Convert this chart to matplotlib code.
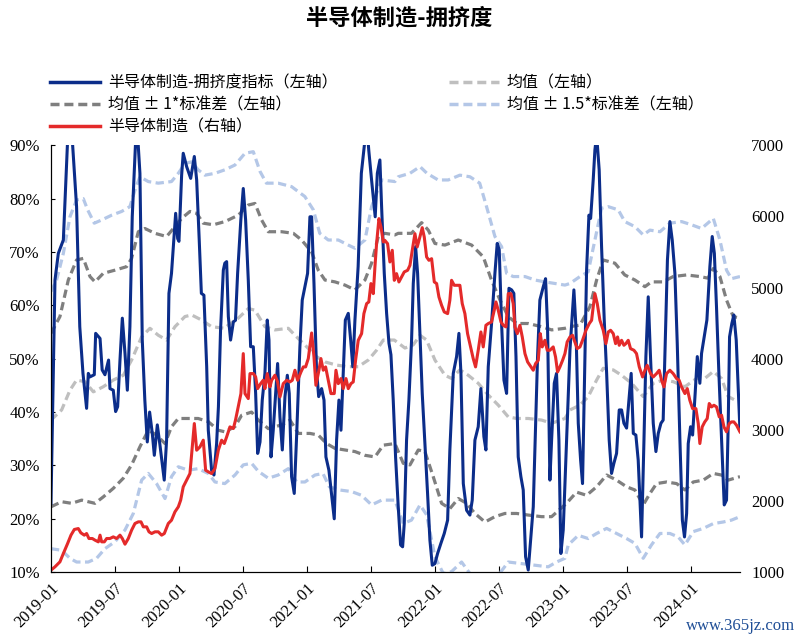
import numpy as np
import matplotlib
matplotlib.use("Agg")
import matplotlib.pyplot as plt
from matplotlib.lines import Line2D

plt.rcParams['font.family'] = ['Liberation Serif', 'Noto Sans CJK SC', 'DejaVu Sans']
CJK = ['Noto Sans CJK SC', 'Liberation Serif', 'DejaVu Sans']

# x positions are months counted from 2019-01
tick_labels = ['2019-01', '2019-07', '2020-01', '2020-07', '2021-01', '2021-07',
               '2022-01', '2022-07', '2023-01', '2023-07', '2024-01']

# 拥挤度指标 (%), left axis
idx_m = [0, 0.375, 0.69, 1.16, 1.56, 1.78, 2.0, 2.4, 2.7, 3.0, 3.34, 3.5, 3.66, 4.06, 4.19,
         4.6, 4.8, 5.06, 5.4, 5.53, 5.84, 6.06, 6.25, 6.47, 6.69, 6.94, 7.16, 7.4, 7.62, 8.03,
         8.34, 8.56, 8.8, 9.03, 9.25, 9.5, 9.69, 9.97, 10.22, 10.62, 10.84, 11.06, 11.3, 11.69,
         11.88, 12.0, 12.25, 12.4, 12.72, 13.1, 13.44, 13.66, 13.9, 14.1, 14.34, 14.6, 14.75,
         15.06, 15.28, 15.53, 15.7, 15.9, 16.16, 16.3,
         16.47, 16.63, 16.84, 17.1, 17.3, 17.5, 17.8, 18.03, 18.25, 18.5, 18.72, 18.97, 19.19,
         19.38, 19.6, 19.81, 20.06, 20.28, 20.44, 20.63, 20.84, 21.25, 21.47, 21.69, 21.94,
         22.16, 22.34, 22.56, 22.81, 23.03, 23.34, 23.56, 23.81, 24.06, 24.28, 24.44, 24.66,
         24.9, 25.1, 25.375, 25.6, 25.78, 26.06, 26.3, 26.56, 26.78, 27.0, 27.19, 27.4, 27.6,
         27.875, 28.1, 28.3, 28.5, 28.8, 29.1, 29.375, 29.6, 29.8, 30.06, 30.4, 30.6, 30.84,
         31.0, 31.25,
         31.47, 31.69, 31.875, 32.09, 32.31, 32.56, 32.78, 32.97, 33.125, 33.34, 33.56, 33.81,
         33.97, 34.19, 34.375, 34.59, 34.81, 35.06, 35.31, 35.53, 35.75, 36.0, 36.25, 36.56,
         36.875, 37.19, 37.4, 37.72, 38.03, 38.25, 38.44, 38.66, 38.97, 39.28, 39.5, 39.75,
         40.06, 40.31, 40.59, 40.78, 41.0, 41.31, 41.625, 41.84, 42.03, 42.25, 42.47, 42.72,
         42.94, 43.19, 43.4, 43.6, 43.81, 44.06, 44.28, 44.5, 44.75, 44.97, 45.22, 45.44,
         45.625, 45.84, 46.16, 46.375, 46.56, 46.78, 46.94, 47.19, 47.4, 47.625, 47.81, 48.03,
         48.4, 48.66, 49.03, 49.22, 49.44, 49.66, 49.84, 50.0, 50.22, 50.44, 50.6, 50.84, 51.0,
         51.16, 51.4, 51.625, 51.875, 52.1, 52.34, 52.56, 52.78, 53.03, 53.28, 53.5, 53.72,
         53.97, 54.19, 54.4, 54.6, 54.84, 55.06, 55.375, 55.6, 55.78, 56.0, 56.2, 56.47, 56.72,
         56.94, 57.19, 57.4, 57.6, 57.8, 58.03, 58.25, 58.5, 58.72, 58.97, 59.2, 59.4, 59.6,
         59.75, 59.97, 60.16, 60.4, 60.6, 60.84, 61.0, 61.3, 61.5, 61.78, 62.0, 62.2, 62.4,
         62.625, 62.875, 63.125, 63.34, 63.5, 63.625, 63.84, 64.03, 64.25, 64.47, 64.6]
idx_v = [22.9, 64.75, 69.75, 72.25, 91, 97, 91, 78.5, 56, 47.25, 40.7, 47.25, 46.6, 47, 54.75,
         53.8, 47.9, 47, 49.75, 44.4, 44.1, 40.1, 41, 49.75, 57.6, 51, 44.1, 56, 76.6, 95,
         84.75, 53.5, 42.25, 34.4, 40, 36, 31.9, 37.6, 33.8, 27.25, 34.75, 62.25, 66, 77.25,
         72.5, 72, 84.4, 88.5, 86, 83.8, 87.9, 83.5, 72.25, 62.25, 61.9, 48.5, 36.6,
         29.1, 28.2, 34.1, 41, 55.4, 66.6, 67.9,
         68.2, 57.9, 53.5, 56.9, 57.2, 66, 76, 81.9, 76, 64.75, 52.25, 52.25, 43.5,
         32.25, 34.4, 42.25, 47.25, 57.25, 53.5, 31.6, 36.6, 49.1, 39.1, 32.9, 42.9,
         46.9, 43.5, 27.9, 24.75, 35.4, 52.25, 61, 63.5, 66, 76.6, 76.6, 64.1,
         47.9, 42.9, 44.4, 42.25, 31.6, 29.1, 24.75, 20, 34.75, 42.25, 36.6, 47.25, 57.25,
         58.5, 53.5, 48.5, 57.25, 67.25, 84.75, 89.75, 94, 89, 83.5, 76.6, 84.75, 87.25,
         78.5, 66,
         58.5, 52.9, 50.75, 42.25, 31.6, 22.25, 15.1, 14.75, 19.1, 34.75, 42.25, 53.5,
         64.1, 71, 66, 54.75, 43.5, 34.1, 24.75, 16, 11.3, 11.6, 13.5, 15.4,
         17.25, 19.75, 32.9, 47.25, 50.4, 54.75, 47.25, 26.6, 21.6, 20.7, 23.5, 34.75,
         37.25, 44.4, 35.4, 32.9, 48.5, 56.6, 66, 71.6, 70.4, 56.6, 46, 43.5,
         63.2, 62.9, 62.25, 50.4, 31.6, 27.9, 25.4, 12.9, 10.4, 16, 22.25, 37.25,
         50.5, 61, 63.5, 65, 56, 27.25, 34.75, 45.4, 47.25, 34.75, 13.5, 17.9,
         37.9, 51.6, 62.9, 56, 37.9, 31, 26.6, 43.5, 66.6, 76.9, 76.3, 83.5, 89.1,
         92, 85.4, 71, 57.25, 47.25, 34.75, 28.5, 30.4, 32.25, 40.4, 40.4, 37.9,
         37, 42.25, 47.25, 36, 35.7, 31, 16.6, 34.75, 50.4, 61.6, 51, 37.9, 32.6,
         36, 37.9, 38.5, 53.5, 68.5, 75.7, 72.25, 66, 52.9, 34.75, 19.75, 16.6, 21,
         34.1, 37.25, 35.7, 43.5, 50.4, 45.4, 51, 54.75, 57.25, 67.25, 72.9, 69.75, 59.75,
         47.25, 34.75, 22.6, 23.5, 37.9, 54.1, 56.6, 58.2, 53.5, 42.9, 36.6]

# 均值 (%)
mean_m = [0, 1.0, 1.78, 2.4, 3.19, 3.97, 4.9, 5.84, 6.78, 7.56, 8.5, 9.28, 10.06, 10.84, 11.625,
          12.56, 13.19, 14.125, 15.06, 16.3, 16.625, 17.56, 18.5, 19.125, 20.06, 21.0, 22.25,
          22.875, 23.97, 24.9, 25.69, 26.78, 27.875, 28.81, 29.75, 30.53, 31.16, 32.19, 33.19,
          33.97, 34.6, 35.22, 36.0, 36.94, 37.56, 38.34, 39.125, 40.06, 41.0, 41.94, 42.875,
          43.66, 44.75, 46.0, 46.94, 48.19, 48.66, 49.6, 50.375, 51.16, 51.78, 52.72, 53.5,
          54.44, 55.53, 56.47, 57.4, 58.34, 59.44, 60.53, 61.3, 62.1, 62.875, 63.5, 64.125, 64.6]
mean_v = [38.5, 40.4, 44.1, 46, 45.7, 43.8, 44.75, 46, 46.9, 49.75, 54.1, 55.7, 54.4, 53.5, 56,
          57.9, 58.2, 57.25, 56, 55.7, 56.3, 57.6, 59.4, 59.1, 56, 55.4, 55.7,
          54.4, 52.25, 50.4, 49.4, 48.8, 48.5, 48.5, 49.75, 51.6, 53.5, 53.5, 52,
          52.6, 54.4, 53.5, 49.75, 46.9, 46.3, 47.9, 46.9, 45.4, 43.2, 41.3, 39.1,
          38.8, 38.8, 38.5, 37.9, 38.8, 40.4, 41.3, 42.9, 46, 48.2, 47.9, 46.9,
          45.4, 42.9, 45.4, 46, 45.7, 44.75, 46.3, 46.3, 47.6, 46.3, 42.9, 42.25, 42.25]

# 均值 ± 1*标准差 (%)
up1_m = [0, 0.84, 1.625, 2.4, 3.03, 3.66, 4.125, 4.9, 6.0, 7.09, 7.56, 8.19, 8.81, 9.75, 10.84,
         11.625, 12.25, 13.03, 13.66, 14.28, 15.22, 16.3, 16.625, 17.56, 18.5, 19.125, 19.75,
         20.375, 21.625, 22.72, 23.5, 24.44, 25.06, 25.69, 26.625, 27.56, 28.5, 29.44, 30.06,
         30.69, 31.3, 32.25, 32.56, 33.8, 34.75, 35.375, 36.0, 36.94, 38.19, 39.44, 40.53,
         41.3, 42.1, 42.875, 43.66, 44.75, 46.0, 46.94, 48.19, 48.66, 49.6, 50.53, 51.16,
         51.78, 52.875, 53.8, 54.75, 55.69, 56.3, 57.4, 58.34, 59.6, 60.84, 61.6, 62.1, 62.72,
         63.34, 63.97, 64.6]
up1_v = [54.75, 57.9, 64.75, 68.5, 68.8, 65.4, 64.4, 66, 66.6, 67.25, 68.8, 73.8, 74.4, 73.5, 72.9,
         74.75, 76.3, 77.6, 77.25, 75.4, 75.1, 75.7, 76, 76.9, 78.8, 79.1, 76,
         73.8, 73.8, 73.5, 72.25, 70, 66.6, 64.75, 64.4, 63.8, 62.9, 64.75, 67.9,
         72.9, 73.5, 73.2, 73.5, 73.5, 75.5, 74.1, 71.6, 71.3, 72.25, 71.3, 69.1,
         64.75, 61, 57.9, 56.6, 56.6, 56, 55.4, 55.7, 56, 56.3, 59.75, 64.75,
         68.5, 67.9, 65.7, 64.75, 63.5, 64.4, 64.4, 65.4, 65.7, 65.4, 65.1, 66.9, 65.4,
         61, 57.9, 57.6]
lo1_m = [0, 1.0, 1.94, 2.875, 4.125, 4.9, 5.84, 6.78, 7.56, 8.34, 9.125, 9.9, 10.69, 11.3, 11.94,
         12.875, 13.8, 14.75, 15.69, 16.3, 17.25, 17.875, 18.81, 19.44, 20.375, 21.625, 22.41,
         23.19, 24.28, 25.06, 25.84, 26.625, 27.56, 28.5, 29.44, 30.375, 31.16, 32.25, 33.03,
         33.66, 34.44, 35.06, 35.84, 36.625, 37.4, 38.19, 38.97, 39.75, 40.69, 41.625, 42.56,
         43.66, 44.75, 46.0, 46.94, 48.34, 49.28, 50.22, 51.16, 52.1, 53.03, 53.97, 54.75,
         55.53, 56.16, 56.78, 57.72, 58.66, 59.44, 60.22, 61.16, 62.1, 62.875, 63.5, 64.6]
lo1_v = [22.25, 23.2, 22.9, 23.5, 22.9, 24.1, 25.7, 27.6, 30.1, 33.5, 36.6, 35.7, 34.1, 37.25, 38.8,
         38.8, 38.8, 38.2, 36.6, 36.3, 37.25, 39.4, 40, 38.5, 36.9, 37.6, 38.5,
         36, 36, 35.7, 34.1, 33.2, 32.9, 32.6, 31.9, 31.6, 33.8, 34.1, 30.4,
         30.1, 32.9, 32.6, 27.9, 22.9, 21.9, 23.8, 22.9, 21, 19.4, 20.4, 21,
         21, 20.7, 20.4, 20.4, 22.9, 25, 24.4, 26, 28.2, 27.25, 26, 25.4,
         22.6, 24.75, 26.6, 26.9, 26.6, 25.4, 26.9, 27.25, 28.5, 28.2, 27.25, 27.9]

# 均值 ± 1.5*标准差 (%)
up15_m = [0, 0.53, 1.16, 1.78, 2.4, 3.03, 3.44, 4.06, 4.75, 5.69, 6.625, 7.4, 7.875, 8.34, 9.125,
          10.06, 11.3, 11.94, 12.56, 13.19, 13.8, 14.44, 15.375, 16.3, 17.25, 18.19, 18.97,
          19.6, 20.2, 21.3, 22.56, 23.8, 24.6, 25.2, 26.0, 26.94, 27.875, 28.5, 29.44, 30.06,
          31.0, 32.25, 32.56, 33.66, 34.6, 35.25, 36.3, 37.25, 38.34, 39.28, 40.2, 40.84,
          41.625, 42.25, 42.72, 43.34, 44.44, 45.375, 46.31, 47.25, 48.19, 48.66, 49.6, 50.375,
          51.0, 51.625, 52.25, 53.19, 53.8, 54.75, 55.53, 56.16, 57.1, 58.03, 59.125, 60.06,
          61.0, 62.1, 62.72, 63.34, 63.8, 64.6]
up15_v = [62.6, 64.75, 69.75, 76.6, 79.75, 80, 77.9, 75.4, 76, 76.9, 77.6, 78.5, 81.6, 84.1, 83.2,
          82.9, 83.2, 84.75, 86.6, 86.9, 85.4, 84.4, 84.75, 85.4, 86.3, 88.5, 88.8,
          85.1, 82.9, 82.9, 82.25, 80.4, 77.9, 73.5, 72.25, 72.25, 71.3, 70.7, 72.25, 78.5,
          83.5, 83.2, 84.1, 84.75, 86, 84.75, 83.5, 83.5, 84.4, 84.1, 82.9, 78.5,
          72.9, 71, 66, 65.4, 65.4, 64.75, 64.4, 64.1, 63.8, 64.1, 65.4, 66.3,
          72.25, 78.2, 78.5, 77.9, 75.7, 74.75, 73.2, 74.1, 73.8, 75.4, 75.7, 75.1,
          74.4, 76.3, 72.25, 66.6, 65, 65.4]
lo15_m = [0, 1.0, 1.78, 2.4, 3.5, 4.28, 5.06, 6.0, 6.94, 7.72, 8.5, 9.125, 9.9, 10.69, 11.3,
          11.94, 12.875, 13.8, 14.75, 15.375, 16.3, 17.25, 18.03, 18.81, 19.44, 20.375, 21.3,
          22.25, 23.03, 23.81, 24.75, 25.5, 26.1, 27.06, 28.19, 29.125, 30.06, 31.0, 32.25,
          33.03, 33.8, 34.6, 35.22, 36.0, 36.78, 37.56, 38.5, 39.28, 40.22, 41.3, 42.06,
          42.875, 44.125, 45.375, 46.625, 47.4, 48.19, 48.5, 49.44, 50.375, 51.16, 52.1, 53.03,
          53.97, 54.75, 55.53, 56.3, 57.1, 58.03, 58.81, 59.44, 60.22, 61.16, 62.1, 63.03,
          63.8, 64.6]
lo15_v = [14.4, 14.1, 12.6, 11.9, 11.9, 12.6, 14.4, 15.7, 17.9, 21, 27.25, 28.5, 26.6, 23.8, 27.9,
          29.75, 29.1, 29.4, 28.5, 26.9, 26.6, 28.2, 30.1, 30.4, 28.9, 27.6, 28.2,
          29.4, 26.9, 26.9, 28.2, 28.5, 26, 25.4, 25.1, 24.4, 22.6, 23.5, 23.5,
          19.1, 19.75, 22.6, 20.75, 12.9, 9.75, 10.1, 11.9, 9.75, 8.5, 9.1, 9.75,
          11.9, 11.6, 11.3, 11, 11.9, 12.6, 15.1, 16.9, 16.3, 17.25, 18.2, 17.25,
          16.3, 15.4, 12.6, 15.1, 17.25, 17.25, 16.6, 15.1, 17.6, 18.2, 19.1, 19.4,
          19.75, 20.4]

# 半导体制造 指数, right axis
red_m = [0, 0.375, 0.84, 1.16, 1.56, 1.875, 2.19, 2.56, 2.8, 3.125, 3.34, 3.56, 3.875, 4.125,
         4.44, 4.6, 4.75, 5.0, 5.22, 5.53, 5.84, 6.16, 6.47, 6.69, 6.94, 7.25, 7.56, 7.875,
         8.19, 8.44, 8.66, 8.97, 9.19, 9.44, 9.75, 10.06, 10.375, 10.625, 11.0, 11.3, 11.625,
         11.94, 12.16, 12.4, 12.72, 13.03, 13.25, 13.44, 13.66, 13.97, 14.28, 14.5, 14.75,
         15.06, 15.375, 15.69,
         16.0, 16.25, 16.47, 16.78, 17.1, 17.3, 17.56, 17.81, 18.03, 18.19, 18.5, 18.66, 18.97,
         19.19, 19.375, 19.66, 19.9, 20.06, 20.28, 20.53, 20.69, 21.0, 21.25, 21.47, 21.78,
         22.1, 22.4, 22.625, 22.875, 23.125, 23.44, 23.66, 23.875, 24.125, 24.44, 24.66, 24.84,
         25.125, 25.31, 25.53, 25.75, 26.0, 26.25, 26.56, 26.72, 26.94, 27.19, 27.4, 27.66,
         27.875, 28.125, 28.34, 28.56, 28.81, 29.125, 29.34, 29.6, 29.8, 30.0, 30.22, 30.375,
         30.53, 30.75, 30.94, 31.16,
         31.3, 31.56, 31.78, 32.0, 32.19, 32.4, 32.625, 32.875, 33.125, 33.44, 33.66, 33.875,
         34.125, 34.34, 34.59, 34.81, 35.0, 35.22, 35.44, 35.69, 35.94, 36.16, 36.375, 36.625,
         36.875, 37.19, 37.4, 37.56, 37.81, 38.125, 38.34, 38.56, 38.81, 39.06, 39.375, 39.59,
         39.81, 40.06, 40.31, 40.53, 40.78, 41.0, 41.31, 41.56, 41.72, 41.94, 42.19, 42.41,
         42.66, 42.875, 43.125, 43.34, 43.5, 43.72, 43.97, 44.19, 44.44, 44.69, 45.0, 45.22,
         45.44, 45.69, 45.875, 46.06, 46.31, 46.53, 46.78, 47.09, 47.31, 47.5,
         47.72, 47.97, 48.19, 48.4, 48.66, 48.9, 49.125, 49.34, 49.6, 49.84, 50.16, 50.47,
         50.69, 50.84, 51.0, 51.22, 51.47, 51.78, 52.03, 52.25, 52.47, 52.72, 52.94, 53.125,
         53.28, 53.5, 53.72, 53.9, 54.125, 54.34, 54.66, 54.9, 55.16, 55.47, 55.69, 55.9,
         56.22, 56.47, 56.78, 57.03, 57.25, 57.47, 57.72, 58.03, 58.34, 58.66, 58.9, 59.125,
         59.44, 59.66, 59.9, 60.16, 60.47, 60.69, 60.84, 61.06, 61.3, 61.53, 61.72, 61.94,
         62.16, 62.4, 62.66, 62.875, 63.1, 63.34, 63.6, 63.81, 64.03, 64.28, 64.6]
red_v = [1028, 1075, 1145, 1262, 1403, 1520, 1600, 1613, 1553, 1520, 1543, 1473, 1473, 1450,
         1426, 1520, 1426, 1426, 1473, 1473, 1496, 1473, 1520, 1473, 1393, 1473, 1590, 1684,
         1707, 1707, 1637, 1637, 1567, 1543, 1567, 1567, 1520, 1543, 1684, 1730, 1848,
         1918, 2012, 2199, 2293, 2386, 2761, 3089, 2714, 2761, 2855, 2433, 2410,
         2386, 2456, 2714,
         2855, 2808, 2901, 3042, 3019, 3136, 3323, 3510, 4072, 3510, 3440, 3791, 3791,
         3744, 3580, 3650, 3697, 3580, 3791, 3604, 3697, 3768, 3674, 3463, 3650,
         3697, 3674, 3697, 3838, 3697, 3814, 3885, 3885, 4002, 4362, 4025, 3627,
         3838, 4002, 3838, 3885, 3697, 3510, 3510, 3838, 3650, 3721, 3580, 3721,
         3580, 3650, 3674, 3978, 4259, 4353, 4634, 4775, 4798, 5056, 4915, 5290,
         5618, 5969, 5852, 5641,
         5664, 5617, 5360, 5524, 5102, 5196, 5079, 5150, 5220, 5243, 5313, 5524,
         5758, 5571, 5711, 5842, 5711, 5430, 5383, 5406, 5079, 5056, 4868, 4751,
         4657, 4634, 4822, 5102, 5032, 5032, 5032, 4775, 4634, 4353, 4142, 4002,
         3885, 4119, 4376, 4166, 4470, 4494, 4517, 4681, 4798, 4681, 4517, 4470,
         4447, 4915, 4915, 4775, 4447, 4353, 4470, 4306, 4072, 3955, 3885, 3838,
         3932, 3978, 4353, 4166, 4259, 4119, 4119, 4166, 4025, 3814,
         3885, 3978, 4072, 4236, 4306, 4330, 4236, 4142, 4166, 4259, 4400, 4494,
         4540, 4728, 4915, 4775, 4540, 4400, 4212, 4376, 4400, 4353, 4212, 4306,
         4189, 4259, 4189, 4212, 4259, 4142, 4119, 4072, 3885, 3744, 3838, 3908,
         3791, 3744, 3791, 3838, 3697, 3604, 3791, 3838, 3791, 3721, 3697, 3604,
         3510, 3580, 3416, 3299, 3299, 3089, 2808, 3042, 3112, 3159, 3370, 3323,
         3346, 3323, 3182, 3206, 3042, 2972, 3089, 3112, 3112, 3065, 2972]

C_BLUE = '#0b2d8a'
C_RED = '#e42a2a'
C_DGRAY = '#7f7f7f'
C_LGRAY = '#bfbfbf'
C_LBLUE = '#b4c7e7'
dash = (0, (2.6, 1.4))

fig = plt.figure(figsize=(7.99, 6.40), dpi=100)
ax = fig.add_axes([0.0638, 0.106, 0.8623, 0.667])
ax2 = ax.twinx()

ax.plot(up15_m, up15_v, color=C_LBLUE, lw=2.3, ls=dash)
ax.plot(lo15_m, lo15_v, color=C_LBLUE, lw=2.3, ls=dash)
ax.plot(up1_m, up1_v, color=C_DGRAY, lw=2.3, ls=dash)
ax.plot(lo1_m, lo1_v, color=C_DGRAY, lw=2.3, ls=dash)
ax.plot(mean_m, mean_v, color=C_LGRAY, lw=2.3, ls=dash)
ax.plot(idx_m, idx_v, color=C_BLUE, lw=2.2)
ax2.plot(red_m, red_v, color=C_RED, lw=2.2)

ax.set_xlim(0, 64.6)
ax.set_ylim(10, 90)
ax2.set_ylim(1000, 7000)
ax.set_yticks(np.arange(10, 91, 10))
ax.set_yticklabels(['%d%%' % v for v in range(10, 91, 10)], fontsize=12)
ax2.set_yticks(np.arange(1000, 7001, 1000))
ax2.set_yticklabels([str(v) for v in range(1000, 7001, 1000)], fontsize=12)
ax.set_xticks(np.arange(0, 61, 6))
ax.set_xticklabels(tick_labels, rotation=45, ha='right', va='top',
                   rotation_mode='anchor', fontsize=12)

for a in (ax, ax2):
    a.spines['top'].set_visible(False)
    a.spines['right'].set_visible(False)
ax.tick_params(axis='x', direction='in', length=4, pad=6)
ax.tick_params(axis='y', direction='in', length=3, pad=8)
ax2.tick_params(axis='y', length=0, pad=8)

fig.text(0.5, 0.972, '半导体制造-拥挤度', ha='center', va='center',
         fontsize=16, fontweight='bold', family=CJK)

handles = [
    Line2D([], [], color=C_BLUE, lw=2.5),
    Line2D([], [], color=C_DGRAY, lw=2.5, ls=dash),
    Line2D([], [], color=C_RED, lw=2.5),
    Line2D([], [], color=C_LGRAY, lw=2.5, ls=dash),
    Line2D([], [], color=C_LBLUE, lw=2.5, ls=dash),
]
labels = ['半导体制造-拥挤度指标（左轴）', '均值 ± 1*标准差（左轴）', '半导体制造（右轴）',
          '均值（左轴）', '均值 ± 1.5*标准差（左轴）']
fig.legend(handles, labels, loc='upper left', bbox_to_anchor=(0.055, 0.893), ncol=2,
           frameon=False, prop={'family': CJK, 'size': 11.5}, handlelength=3.1,
           handletextpad=0.5, labelspacing=0.3, columnspacing=7.0, borderaxespad=0)

fig.text(0.995, 0.022, 'www.365jz.com', ha='right', va='center', fontsize=12,
         color='#1f4e96')

fig.savefig('out.png', dpi=100)
